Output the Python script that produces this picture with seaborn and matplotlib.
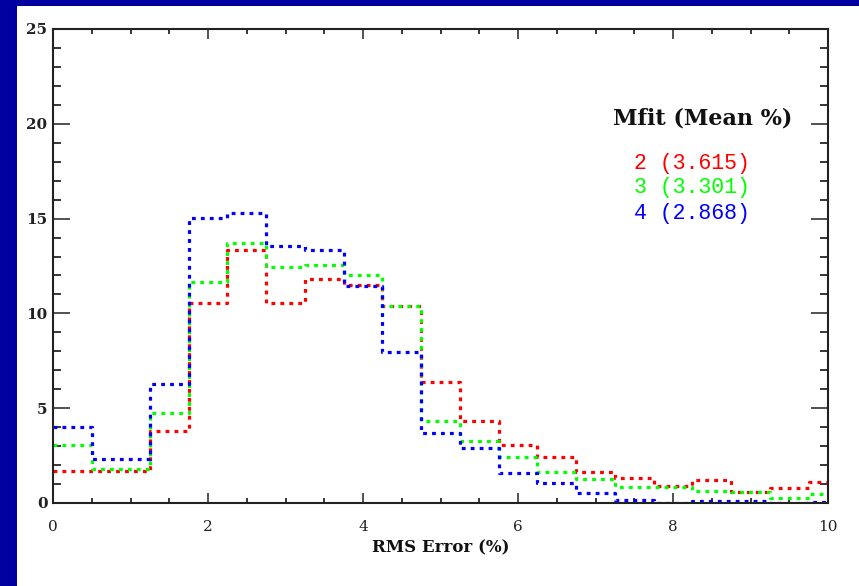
import numpy as np
import pandas as pd
import matplotlib
matplotlib.use("Agg")
import matplotlib.pyplot as plt
import seaborn as sns
from matplotlib.ticker import MultipleLocator

# ---- data ----
bin_edges = [0, 0.5, 1.25, 1.75, 2.25, 2.75, 3.25, 3.75, 4.25, 4.75, 5.25,
             5.75, 6.25, 6.75, 7.25, 7.75, 8.25, 8.75, 9.25, 9.75, 10]
mfit2 = [1.7, 1.7, 3.8, 10.55, 13.35, 10.55, 11.8, 11.5, 10.4, 6.4, 4.35,
         3.05, 2.4, 1.65, 1.3, 0.9, 1.2, 0.6, 0.8, 1.1]
mfit3 = [3.05, 1.8, 4.75, 11.65, 13.7, 12.45, 12.55, 12.05, 10.4, 4.35, 3.25,
         2.4, 1.65, 1.25, 0.85, 0.85, 0.65, 0.6, 0.25, 0.5]
mfit4 = [4.0, 2.3, 6.3, 15.05, 15.3, 13.55, 13.35, 11.45, 7.95, 3.7, 2.9,
         1.6, 1.05, 0.55, 0.15, 0.0, 0.1, 0.1, 0.0, 0.05]
series_names = ["2", "3", "4"]
series_means = ["3.615", "3.301", "2.868"]
series_colors = ["#ff0000", "#00ff00", "#0000ff"]

centers = [(a + b) / 2 for a, b in zip(bin_edges[:-1], bin_edges[1:])]
rows = []
for name, vals in zip(series_names, [mfit2, mfit3, mfit4]):
    for c, v in zip(centers, vals):
        rows.append({"rms": c, "count": v, "mfit": name})
df = pd.DataFrame(rows)

# ---- figure ----
W, H = 859, 586
fig = plt.figure(figsize=(W / 100, H / 100), dpi=100)
fig.patch.set_facecolor("#0000a0")

bg = fig.add_axes([17 / W, 0, 1 - 17 / W, (H - 6) / H], zorder=-5)
bg.set_facecolor("white")
bg.set_xticks([])
bg.set_yticks([])
for s in bg.spines.values():
    s.set_visible(False)

ax = fig.add_axes([53 / W, (H - 503) / H, (828 - 53) / W, (503 - 29) / H],
                  zorder=2)
ax.set_facecolor("white")

for name, col in zip(series_names, series_colors):
    sub = df[df["mfit"] == name]
    sns.histplot(data=sub, x="rms", weights="count", bins=bin_edges,
                 element="step", fill=False, color=col, ax=ax,
                 linewidth=2.3, linestyle=(0, (1.2, 1.6)))

ax.set_xlim(0, 10)
ax.set_ylim(0, 25)
ax.xaxis.set_major_locator(MultipleLocator(2))
ax.xaxis.set_minor_locator(MultipleLocator(0.5))
ax.yaxis.set_major_locator(MultipleLocator(5))
ax.yaxis.set_minor_locator(MultipleLocator(1))

ax.tick_params(axis="x", which="major", direction="in", length=7, width=1.1,
               top=True, bottom=True, pad=12, labelsize=11, colors="#222222")
ax.tick_params(axis="x", which="minor", direction="in", length=3.6, width=1.1,
               top=True, bottom=True)
ax.tick_params(axis="y", which="major", direction="in", length=12.5, width=1.1,
               left=True, right=True, pad=4, labelsize=11, colors="#222222")
ax.tick_params(axis="y", which="minor", direction="in", length=6, width=1.1,
               left=True, right=True)
for lab in ax.get_xticklabels() + ax.get_yticklabels():
    lab.set_family("DejaVu Serif")
for lab in ax.get_yticklabels():
    lab.set_fontweight("bold")

for s in ax.spines.values():
    s.set_visible(True)
    s.set_linewidth(1.5)
    s.set_color("#222222")

ax.set_xlabel("RMS Error (%)", family="DejaVu Serif", fontsize=12,
              fontweight="bold", labelpad=4, color="#111111")
ax.set_ylabel("")

# legend-like annotation
fig.text(703 / W, 1 - 118 / H, "Mfit (Mean %)", family="DejaVu Serif",
         fontsize=16, fontweight="bold", ha="center", va="center",
         color="#111111", zorder=10)
for i, (n, m, c) in enumerate(zip(series_names, series_means, series_colors)):
    fig.text(634 / W, 1 - (163 + 25 * i) / H, f"{n} ({m})",
             family="Liberation Mono", fontsize=15.5, ha="left", va="center",
             color=c, zorder=10)

fig.savefig("out.png", dpi=100, facecolor=fig.get_facecolor())
